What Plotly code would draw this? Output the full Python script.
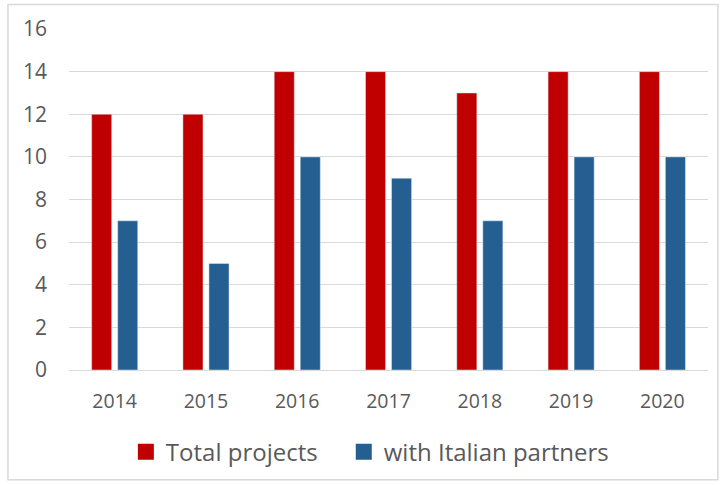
import plotly.graph_objects as go

years = ["2014", "2015", "2016", "2017", "2018", "2019", "2020"]
total_projects = [12, 12, 14, 14, 13, 14, 14]
italian_partners = [7, 5, 10, 9, 7, 10, 10]
y_ticks = [0, 2, 4, 6, 8, 10, 12, 14, 16]
series_names = ["Total projects", "with Italian partners"]
series_colors = ["#C00000", "#255E91"]

FONT = "Open Sans, Lato, sans-serif"
GREY = "#595959"

fig = go.Figure()
fig.add_trace(go.Bar(x=years, y=total_projects, name=series_names[0], showlegend=False,
                     marker_color=series_colors[0], width=0.22, offset=-0.252))
fig.add_trace(go.Bar(x=years, y=italian_partners, name=series_names[1], showlegend=False,
                     marker_color=series_colors[1], width=0.22, offset=0.033))
# legend entries with larger square symbols, one legend each
for nm, col, lg in zip(series_names, series_colors, ["legend", "legend2"]):
    fig.add_trace(go.Scatter(x=[None], y=[None], mode="markers", name=nm, legend=lg,
                             marker=dict(symbol="square", size=16, color=col),
                             hoverinfo="skip"))

leg_common = dict(orientation="h", y=-0.237, yanchor="middle", xanchor="left",
                  font=dict(size=24, color=GREY, family=FONT), itemwidth=30,
                  bgcolor="rgba(0,0,0,0)")

fig.update_layout(
    width=720, height=485,
    margin=dict(l=69, r=12, t=29, b=114),
    paper_bgcolor="white", plot_bgcolor="white",
    barmode="group",
    font=dict(family=FONT, color=GREY, size=19),
    xaxis=dict(showgrid=False, showline=False, ticks="", ticklabelstandoff=17,
               tickfont=dict(size=19.5, color=GREY)),
    yaxis=dict(range=[0, 16], tickvals=y_ticks, showgrid=True, gridcolor="#D9D9D9",
               gridwidth=1, zeroline=True, zerolinecolor="#D9D9D9", zerolinewidth=1,
               ticks="", ticklabelstandoff=21, tickfont=dict(size=21, color=GREY)),
    legend=dict(x=0.089, **leg_common),
    legend2=dict(x=0.430, **leg_common),
    showlegend=True,
    shapes=[dict(type="rect", xref="paper", yref="paper",
                 x0=-0.0955, x1=1.0155, y0=-0.3216, y1=1.0716,
                 line=dict(color="#D9D9D9", width=1.5), fillcolor="rgba(0,0,0,0)", layer="below")],
)

fig.write_html("out.html", config={"displayModeBar": False},
               post_script="document.body.style.margin='0';")
